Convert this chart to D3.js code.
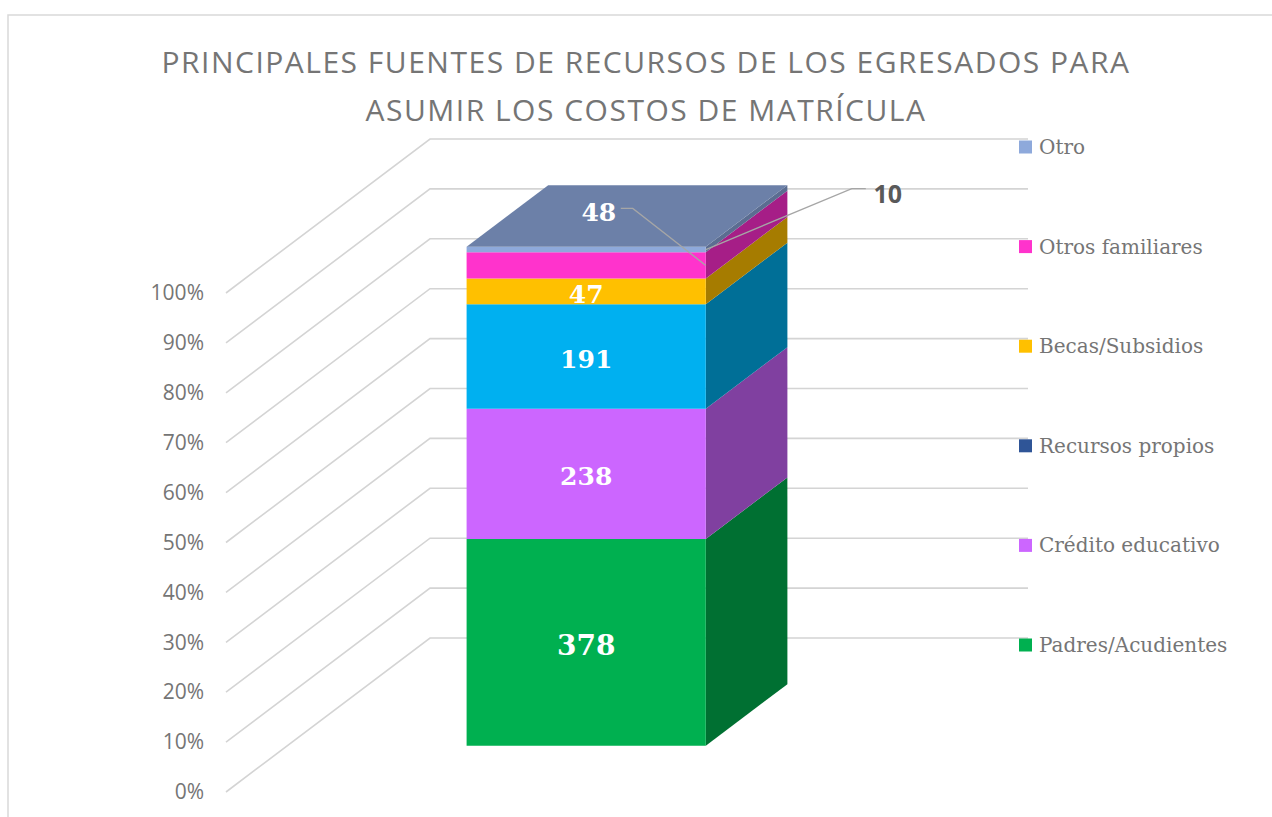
<!DOCTYPE html>
<html>
<head>
<meta charset="utf-8">
<script src="https://cdn.jsdelivr.net/npm/d3@7"></script>
<style>
  body { margin: 0; background: #fff; }
</style>
</head>
<body>
<div id="wrapper"></div>
<script>
// data, bottom to top of the stack
const categories = ["Padres/Acudientes", "Crédito educativo", "Recursos propios", "Becas/Subsidios", "Otros familiares", "Otro"];
const values = [378, 238, 191, 47, 48, 10];
const frontColors = ["#00B050", "#CC66FF", "#00B0F0", "#FFC000", "#FF33CC", "#8EA9DB"];
const sideColors = ["#007032", "#8040A0", "#006F97", "#A67C00", "#A61E87", "#5B6D91"];
const legendColors = ["#00B050", "#CC66FF", "#2F5597", "#FFC000", "#FF33CC", "#8EA9DB"];
const titleLines = ["PRINCIPALES FUENTES DE RECURSOS DE LOS EGRESADOS PARA", "ASUMIR LOS COSTOS DE MATRÍCULA"];

function drawChart() {
    const dimensions = { width: 1272, height: 817 };

    const svg = d3.select("#wrapper").append("svg")
        .attr("width", dimensions.width)
        .attr("height", dimensions.height);

    // chart frame
    svg.append("path")
        .attr("d", `M8,${dimensions.height} V15 H${dimensions.width}`)
        .attr("fill", "none")
        .attr("stroke", "#d9d9d9")
        .attr("stroke-width", 1.5);

    // title
    svg.append("text")
        .attr("x", 646)
        .attr("text-anchor", "middle")
        .style("font-family", "'Open Sans', sans-serif")
        .style("font-size", "30px")
        .style("letter-spacing", "1.5px")
        .attr("fill", "#757575")
        .selectAll("tspan")
        .data(titleLines)
        .join("tspan")
        .attr("x", 646)
        .attr("y", (d, i) => 73 + i * 48)
        .text(d => d);

    // scales: value on front plane, depth offsets
    const yScale = d3.scaleLinear().domain([0, 1]).range([792, 293]);
    const depthX = d3.scaleLinear().domain([0, 1]).range([0, 204]);
    const depthY = d3.scaleLinear().domain([0, 1]).range([0, 154]);
    const xScale = d3.scaleBand().domain(["Egresados"]).range([226, 824])
        .paddingInner(0).paddingOuter(0.75);

    const proj = (x, v, z) => [x + depthX(z), yScale(v) - depthY(z)];

    // gridlines: side wall diagonal + back wall horizontal
    const ticks = yScale.ticks(10);
    const grid = svg.append("g")
        .attr("fill", "none")
        .attr("stroke", "#d4d4d4")
        .attr("stroke-width", 1.6);
    grid.selectAll("path")
        .data(ticks)
        .join("path")
        .attr("d", d => {
            const a = proj(226, d, 0), b = proj(226, d, 1), c = proj(824, d, 1);
            return `M${a}L${b}L${c}`;
        });

    // axis labels
    const yAxis = svg.append("g")
        .attr("transform", "translate(204,0)")
        .call(d3.axisLeft(yScale).ticks(10).tickFormat(d3.format(".0%")).tickSize(0).tickPadding(0));
    yAxis.select(".domain").remove();
    yAxis.selectAll("text")
        .style("font-family", "'Open Sans', sans-serif")
        .style("font-size", "21px")
        .attr("fill", "#757575");

    // stack, 100% normalised
    const row = {};
    categories.forEach((c, i) => row[c] = values[i]);
    const series = d3.stack().keys(categories).offset(d3.stackOffsetExpand)([row]);

    const zFront = 0.3, zBack = 0.7;
    const x0 = xScale("Egresados"), x1 = x0 + xScale.bandwidth();

    const bar = svg.append("g");

    // side faces
    bar.selectAll(".side")
        .data(series)
        .join("path")
        .attr("class", "side")
        .attr("fill", (d, i) => sideColors[i])
        .attr("d", d => {
            const [v0, v1] = d[0];
            return `M${proj(x1, v0, zFront)}L${proj(x1, v1, zFront)}L${proj(x1, v1, zBack)}L${proj(x1, v0, zBack)}Z`;
        });

    // front faces
    bar.selectAll(".front")
        .data(series)
        .join("path")
        .attr("class", "front")
        .attr("fill", (d, i) => frontColors[i])
        .attr("d", d => {
            const [v0, v1] = d[0];
            return `M${proj(x0, v0, zFront)}L${proj(x1, v0, zFront)}L${proj(x1, v1, zFront)}L${proj(x0, v1, zFront)}Z`;
        });

    // top face
    const topVal = series[series.length - 1][0][1];
    bar.append("path")
        .attr("fill", "#6C80A8")
        .attr("d", `M${proj(x0, topVal, zFront)}L${proj(x1, topVal, zFront)}L${proj(x1, topVal, zBack)}L${proj(x0, topVal, zBack)}Z`);

    // data labels
    const callouts = {
        "Otros familiares": { dx: -107, dy: -53, elbow: -73, color: "#fff", font: "'DejaVu Serif', serif" },
        "Otro": { dx: 182, dy: -57, elbow: 146, color: "#595959", font: "'Open Sans', sans-serif" }
    };
    const labels = svg.append("g");
    series.forEach((s, i) => {
        const [v0, v1] = s[0];
        const mid = (v0 + v1) / 2;
        const c = callouts[s.key];
        if (!c) {
            const [cx, cy] = proj((x0 + x1) / 2, mid, zFront);
            labels.append("text")
                .attr("x", cx)
                .attr("y", cy + 3)
                .attr("text-anchor", "middle")
                .attr("dominant-baseline", "central")
                .style("font-family", "'DejaVu Serif', serif")
                .style("font-weight", "bold")
                .style("font-size", i === 0 ? "28px" : "25px")
                .attr("fill", "#fff")
                .text(values[i]);
        } else {
            const [ax, ay] = proj(x1, mid, zFront);
            const lx = ax + c.dx, ly = ay + c.dy;
            const side = c.dx < 0 ? 1 : -1;
            labels.append("path")
                .attr("fill", "none")
                .attr("stroke", "#a6a6a6")
                .attr("stroke-width", 1.3)
                .attr("d", `M${ax},${ay}L${ax + c.elbow},${ly - 4}L${lx + side * 22},${ly - 4}`);
            labels.append("text")
                .attr("x", lx)
                .attr("y", ly)
                .attr("text-anchor", "middle")
                .attr("dominant-baseline", "central")
                .style("font-family", c.font)
                .style("font-weight", "bold")
                .style("font-size", "25px")
                .attr("fill", c.color)
                .text(values[i]);
        }
    });

    // legend, top to bottom
    const legendOrder = categories.slice().reverse();
    const legendY = d3.scalePoint().domain(legendOrder).range([147, 645]);
    const legend = svg.append("g").selectAll("g")
        .data(legendOrder)
        .join("g")
        .attr("transform", d => `translate(1019,${legendY(d)})`);
    legend.append("rect")
        .attr("y", -6.5)
        .attr("width", 13)
        .attr("height", 13)
        .attr("fill", d => legendColors[categories.indexOf(d)]);
    legend.append("text")
        .attr("x", 20)
        .attr("dominant-baseline", "central")
        .style("font-family", "'DejaVu Serif', serif")
        .style("font-size", "20px")
        .attr("fill", "#757575")
        .text(d => d);
}
drawChart();
</script>
</body>
</html>
